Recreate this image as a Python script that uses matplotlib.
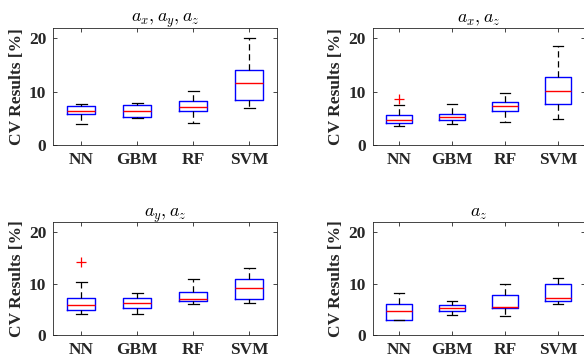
import matplotlib
matplotlib.use("Agg")
import matplotlib.pyplot as plt

plt.rcParams["font.family"] = ["Liberation Serif", "DejaVu Serif"]
plt.rcParams["mathtext.fontset"] = "cm"

models = ["NN", "GBM", "RF", "SVM"]
titles = [r"$a_x, a_y, a_z$", r"$a_x, a_z$", r"$a_y, a_z$", r"$a_z$"]

# CV results [%] per model: whisker low, Q1, median, Q3, whisker high
xyz_lo = [3.98, 5.03, 4.16, 6.96]
xyz_q1 = [5.90, 5.16, 6.40, 8.50]
xyz_med = [6.46, 6.46, 7.20, 11.6]
xyz_q3 = [7.27, 7.50, 8.26, 14.1]
xyz_hi = [7.64, 7.90, 10.19, 20.1]
xyz_out = [[], [], [], []]

xz_lo = [3.48, 3.85, 4.29, 4.97]
xz_q1 = [4.16, 4.60, 6.46, 7.76]
xz_med = [4.60, 5.20, 7.33, 10.19]
xz_q3 = [5.71, 5.84, 8.14, 12.67]
xz_hi = [7.58, 7.70, 9.75, 18.57]
xz_out = [[8.57], [], [], []]

yz_lo = [4.05, 4.18, 6.10, 6.24]
yz_q1 = [4.82, 5.34, 6.56, 7.00]
yz_med = [5.85, 6.17, 7.07, 9.13]
yz_q3 = [7.27, 7.14, 8.42, 11.0]
yz_hi = [10.3, 8.17, 10.93, 13.1]
yz_out = [[14.3], [], [], []]

z_lo = [2.90, 3.99, 3.79, 6.05]
z_q1 = [2.90, 4.76, 5.27, 6.69]
z_med = [4.76, 5.20, 5.53, 7.14]
z_q3 = [6.05, 5.85, 7.85, 9.84]
z_hi = [8.23, 6.62, 9.90, 11.19]
z_out = [[], [], [], []]

panels = [
    (xyz_lo, xyz_q1, xyz_med, xyz_q3, xyz_hi, xyz_out),
    (xz_lo, xz_q1, xz_med, xz_q3, xz_hi, xz_out),
    (yz_lo, yz_q1, yz_med, yz_q3, yz_hi, yz_out),
    (z_lo, z_q1, z_med, z_q3, z_hi, z_out),
]

# axes rectangles in pixels: left, top, width, height
W, H = 584, 360
rects = [
    (53.3, 27.7, 224, 117.3),
    (372.7, 27.7, 211.8, 117.3),
    (53.3, 222.0, 224, 113.0),
    (372.7, 222.0, 211.8, 113.0),
]

dark = (0.15, 0.15, 0.15)
fig = plt.figure(figsize=(W / 100, H / 100), dpi=100)

for (x0, y0, w, h), title, (lo, q1, med, q3, hi, out) in zip(rects, titles, panels):
    ax = fig.add_axes([x0 / W, 1 - (y0 + h) / H, w / W, h / H])
    stats = [
        dict(whislo=a, q1=b, med=c, q3=d, whishi=e, fliers=f)
        for a, b, c, d, e, f in zip(lo, q1, med, q3, hi, out)
    ]
    ax.bxp(
        stats,
        positions=range(1, len(models) + 1),
        widths=0.5,
        showfliers=True,
        boxprops=dict(color="blue", linewidth=1.0),
        medianprops=dict(color="red", linewidth=1.0),
        whiskerprops=dict(color="black", linewidth=0.9, linestyle=(0, (5, 3))),
        capprops=dict(color="black", linewidth=0.9),
        capwidths=0.19,
        flierprops=dict(marker="+", markeredgecolor="red", markersize=7, markeredgewidth=0.9),
    )
    ax.set_xlim(0.5, 4.5)
    ax.set_ylim(0, 22)
    ax.set_yticks([0, 10, 20])
    ax.set_xticks(range(1, len(models) + 1))
    ax.set_xticklabels(models)
    ax.tick_params(direction="in", length=3, width=0.6, top=True, right=True,
                   labelsize=12.5, colors=dark, pad=5)
    for lbl in ax.get_xticklabels() + ax.get_yticklabels():
        lbl.set_fontweight("bold")
    for sp in ax.spines.values():
        sp.set_color(dark)
        sp.set_linewidth(0.6)
    ax.set_ylabel("CV Results [%]", fontsize=12.5, fontweight="bold", color=dark, labelpad=3)
    ax.set_title(title, fontsize=13, color="black", pad=4)

fig.savefig("out.png", dpi=100)
